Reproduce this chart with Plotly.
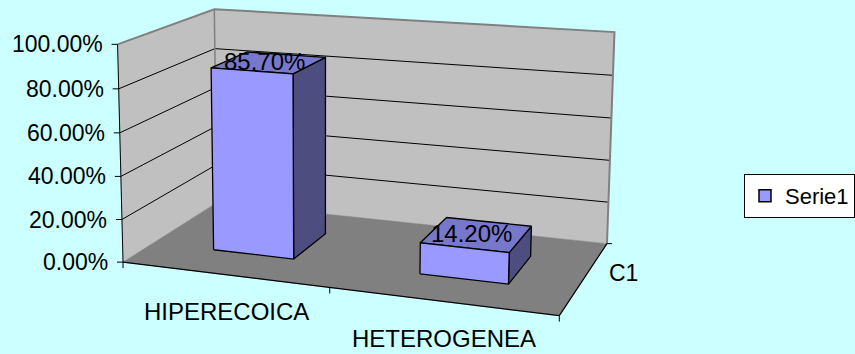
import numpy as np
import plotly.graph_objects as go

# ---------------- data ----------------
categories = ["HIPERECOICA", "HETEROGENEA"]
values = [85.7, 14.2]                      # percent
data_labels = ["85.70%", "14.20%"]
series_name = "Serie1"
depth_label = "C1"
y_ticks = [0, 20, 40, 60, 80, 100]
y_tick_labels = ["0.00%", "20.00%", "40.00%", "60.00%", "80.00%", "100.00%"]
y_max = 100.0

# ---------------- layout constants ----------------
W, H = 855, 354
BG = "#CCFFFF"
FONT = "Liberation Sans, Arial, sans-serif"

# Perspective camera calibrated on the unit plot box (u: category, v: value, w: depth)
calib = [
    ((0, 0, 0), (125, 261)), ((1, 0, 0), (559, 317)),
    ((0, 0, 1), (215, 204)), ((1, 0, 1), (607, 243)),
    ((0, 1, 0), (116.5, 44)), ((0, 1, 1), (216, 9)),
    ((1, 1, 1), (614, 33)), ((0, 0.8, 0), (118, 89)),
    ((1, 0.8, 1), (613, 75)), ((1, 0.2, 1), (609, 201)),
]
rows = []
for (X, Y, Z), (x, y) in calib:
    rows.append([X, Y, Z, 1, 0, 0, 0, 0, -x * X, -x * Y, -x * Z, -x])
    rows.append([0, 0, 0, 0, X, Y, Z, 1, -y * X, -y * Y, -y * Z, -y])
_, _, vt = np.linalg.svd(np.array(rows, float))
P = vt[-1].reshape(3, 4)


def proj(u, v, w):
    p = P @ np.array([u, v, w, 1.0])
    return p[0] / p[2], p[1] / p[2]


fig = go.Figure()


def poly(pts3, fill, line_color, lw):
    xy = [proj(*p) for p in pts3]
    xy.append(xy[0])
    fig.add_trace(go.Scatter(
        x=[a for a, b in xy], y=[b for a, b in xy], mode="lines",
        fill="toself", fillcolor=fill,
        line=dict(color=line_color, width=lw),
        hoverinfo="skip", showlegend=False))


def line(pts3, color="black", lw=1):
    xy = [proj(*p) for p in pts3]
    fig.add_trace(go.Scatter(
        x=[a for a, b in xy], y=[b for a, b in xy],
        mode="lines", line=dict(color=color, width=lw),
        hoverinfo="skip", showlegend=False))


def seg_px(p3, dx, dy, color="black", lw=1):
    x0, y0 = proj(*p3)
    fig.add_trace(go.Scatter(
        x=[x0, x0 + dx], y=[y0, y0 + dy], mode="lines",
        line=dict(color=color, width=lw), hoverinfo="skip", showlegend=False))


# walls and floor
poly([(0, 0, 0), (0, 1, 0), (0, 1, 1), (0, 0, 1)], "#C0C0C0", "#C0C0C0", 0.5)
poly([(0, 0, 1), (0, 1, 1), (1, 1, 1), (1, 0, 1)], "#C0C0C0", "#C0C0C0", 0.5)
poly([(0, 0, 0), (1, 0, 0), (1, 0, 1), (0, 0, 1)], "#808080", "#808080", 0.5)

# gridlines
for t in y_ticks:
    v = t / y_max
    if 0 < v < 1:
        line([(0, v, 0), (0, v, 1), (1, v, 1)], "black", 1)

# wall outline (gray)
line([(0, 1, 0), (0, 1, 1), (1, 1, 1), (1, 0, 1)], "#808080", 2)
line([(0, 1, 1), (0, 0, 1)], "#808080", 1.5)

# axes
line([(0, 0, 0), (0, 1, 0)], "black", 1)
line([(0, 0, 0), (1, 0, 0)], "black", 1.2)
line([(1, 0, 0), (1, 0, 1)], "black", 1.2)

# ticks
for t in y_ticks:
    seg_px((0, t / y_max, 0), -6, 0)
n = len(categories)
for k in range(n + 1):
    seg_px((k / n, 0, 0), 0, 6)
seg_px((1, 0, 1), 5, 0)

# bars
bar_half = 0.2 / n
wf, wb = 0.3, 0.7
for i, val in enumerate(values):
    uc = (i + 0.5) / n + 0.005
    u0, u1 = uc - bar_half, uc + bar_half
    v = val / y_max
    poly([(u1, 0, wf), (u1, 0, wb), (u1, v, wb), (u1, v, wf)], "#4D4D80", "black", 1.3)
    poly([(u0, v, wf), (u1, v, wf), (u1, v, wb), (u0, v, wb)], "#7777CC", "black", 1.3)
    poly([(u0, 0, wf), (u1, 0, wf), (u1, v, wf), (u0, v, wf)], "#9999FF", "black", 1.3)

annotations = []
# data labels
for i, val in enumerate(values):
    uc = (i + 0.5) / n
    x, y = proj(uc, val / y_max, (wf + wb) / 2)
    annotations.append(dict(x=x - 3, y=y - 1, text=data_labels[i], showarrow=False,
                            xanchor="center", yanchor="middle",
                            font=dict(family=FONT, size=24, color="black")))
# value tick labels
for t, lab in zip(y_ticks, y_tick_labels):
    x, y = proj(0, t / y_max, 0)
    annotations.append(dict(x=x - 13, y=y, text=lab, showarrow=False,
                            xanchor="right", yanchor="middle",
                            font=dict(family=FONT, size=23, color="black")))
# category labels
for i, c in enumerate(categories):
    x, y = proj((i + 0.5) / n, 0, 0)
    annotations.append(dict(x=x + 3, y=y + 37, text=c, showarrow=False,
                            xanchor="center", yanchor="middle",
                            font=dict(family=FONT, size=24, color="black")))
# depth label
x, y = proj(1, 0, 0.5)
annotations.append(dict(x=x + 22, y=y - 4, text=depth_label, showarrow=False,
                        xanchor="left", yanchor="middle",
                        font=dict(family=FONT, size=23, color="black")))

# legend entry
fig.add_trace(go.Bar(x=[None], y=[None], name=series_name,
                     marker=dict(color="#9999FF", line=dict(color="black", width=1.5)),
                     showlegend=True))

fig.update_layout(
    width=W, height=H, margin=dict(l=0, r=0, t=0, b=0),
    paper_bgcolor=BG, plot_bgcolor=BG,
    xaxis=dict(range=[0, W], visible=False, fixedrange=True),
    yaxis=dict(range=[H, 0], visible=False, fixedrange=True),
    annotations=annotations,
    showlegend=True,
    legend=dict(x=744 / W, y=1 - 174 / H, xanchor="left", yanchor="top",
                bgcolor="white", bordercolor="black", borderwidth=1,
                font=dict(family=FONT, size=22, color="black"),
                itemclick=False, itemdoubleclick=False),
)

fig.write_html("out.html")
